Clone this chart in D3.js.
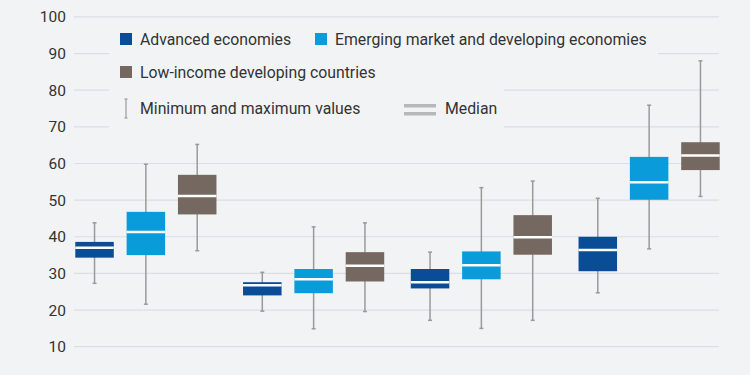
<!DOCTYPE html>
<html><head><meta charset="utf-8">
<script src="https://cdn.jsdelivr.net/npm/d3@7"></script>
<style>
html,body{margin:0;padding:0;background:#f2f3f5;}
svg{display:block;font-family:Roboto,"Noto Sans",sans-serif;}
</style></head>
<body><svg id="chart" width="750" height="375"></svg>
<script>
const groups = ["G1","G2","G3","G4"];
const series = ["Advanced economies","Emerging market and developing economies","Low-income developing countries"];
const colors = ["#0a4c95","#0a9bdb","#756860"];
const yTicks = [10,20,30,40,50,60,70,80,90,100];
// per series, per group: [min, q1, median, q3, max]
const advanced = [[27.3,34.3,37.0,38.6,43.8],[19.7,24.0,26.8,27.6,30.3],[17.2,25.9,27.6,31.2,35.8],[24.7,30.6,36.4,40.0,50.5]];
const emerging = [[21.6,35.0,41.3,46.8,59.8],[14.9,24.6,28.4,31.2,42.7],[15.0,28.4,32.2,36.0,53.4],[36.7,50.1,54.9,61.8,75.9]];
const lowIncome = [[36.2,46.1,51.1,56.9,65.2],[19.6,27.8,32.1,35.8,43.8],[17.2,35.1,39.9,45.9,55.2],[51.0,58.2,62.2,65.8,88.0]];
const allData = [advanced, emerging, lowIncome];

const svg = d3.select("#chart");
const y = d3.scaleLinear().domain([10,100]).range([346.7,16.9]);
const x0 = d3.scaleBand().domain(groups).range([62,733]).paddingInner(0).paddingOuter(0);
const x1 = d3.scaleBand().domain(d3.range(series.length)).range([x0.bandwidth()/2-77,x0.bandwidth()/2+77]).paddingInner(0.25).paddingOuter(0.125);

// gridlines
svg.append("g").selectAll("line").data(yTicks).join("line")
  .attr("x1",74).attr("x2",719)
  .attr("y1",d=>y(d)).attr("y2",d=>y(d))
  .attr("stroke","#dcdee1").attr("stroke-width",1.2);
// y labels
svg.append("g").selectAll("text").data(yTicks).join("text")
  .attr("x",66).attr("y",d=>y(d)).attr("dy","0.36em")
  .attr("text-anchor","end").attr("font-size",15.5).attr("fill","#333")
  .text(d=>d);

// legend background covering gridlines
svg.append("rect").attr("x",109).attr("y",26).attr("width",549).attr("height",34).attr("fill","#f2f3f5");
svg.append("rect").attr("x",109).attr("y",58).attr("width",395).attr("height",74).attr("fill","#f2f3f5");

// boxes
series.forEach((s,si)=>{
  const g = svg.append("g");
  const data = allData[si];
  const bw = x1.bandwidth();
  groups.forEach((gname,gi)=>{
    const d = data[gi];
    const cx = x0(gname) + x1(si) + bw/2;
    g.append("line").attr("x1",cx).attr("x2",cx).attr("y1",y(d[0])).attr("y2",y(d[4]))
      .attr("stroke","#9a9a9a").attr("stroke-width",1.5);
    [d[0],d[4]].forEach(v=>g.append("line").attr("x1",cx-2).attr("x2",cx+2).attr("y1",y(v)).attr("y2",y(v))
      .attr("stroke","#9a9a9a").attr("stroke-width",1.5));
    g.append("rect").attr("x",cx-bw/2).attr("width",bw).attr("y",y(d[3])).attr("height",y(d[1])-y(d[3]))
      .attr("fill",colors[si]);
    g.append("line").attr("x1",cx-bw/2).attr("x2",cx+bw/2).attr("y1",y(d[2])).attr("y2",y(d[2]))
      .attr("stroke","#fff").attr("stroke-width",2.5);
  });
});

// legend
const leg = svg.append("g").attr("font-size",15.8).attr("fill","#333");
const legItems = [{x:120,y:33,i:0},{x:315,y:33,i:1},{x:120,y:66,i:2}];
legItems.forEach(it=>{
  leg.append("rect").attr("x",it.x).attr("y",it.y).attr("width",12).attr("height",12).attr("fill",colors[it.i]);
  leg.append("text").attr("x",it.x+20).attr("y",it.y+11.5).text(series[it.i]);
});
leg.append("line").attr("x1",126).attr("x2",126).attr("y1",99).attr("y2",118).attr("stroke","#9a9a9a").attr("stroke-width",1.2);
leg.append("line").attr("x1",124.5).attr("x2",127.5).attr("y1",99).attr("y2",99).attr("stroke","#9a9a9a").attr("stroke-width",1.2);
leg.append("line").attr("x1",124.5).attr("x2",127.5).attr("y1",118).attr("y2",118).attr("stroke","#9a9a9a").attr("stroke-width",1.2);
leg.append("text").attr("x",140).attr("y",114).text("Minimum and maximum values");
leg.append("rect").attr("x",404).attr("y",104).attr("width",32).attr("height",3.5).attr("fill","#b8b8b8");
leg.append("rect").attr("x",404).attr("y",112).attr("width",32).attr("height",3.5).attr("fill","#b8b8b8");
leg.append("text").attr("x",445).attr("y",114).text("Median");
</script></body></html>
